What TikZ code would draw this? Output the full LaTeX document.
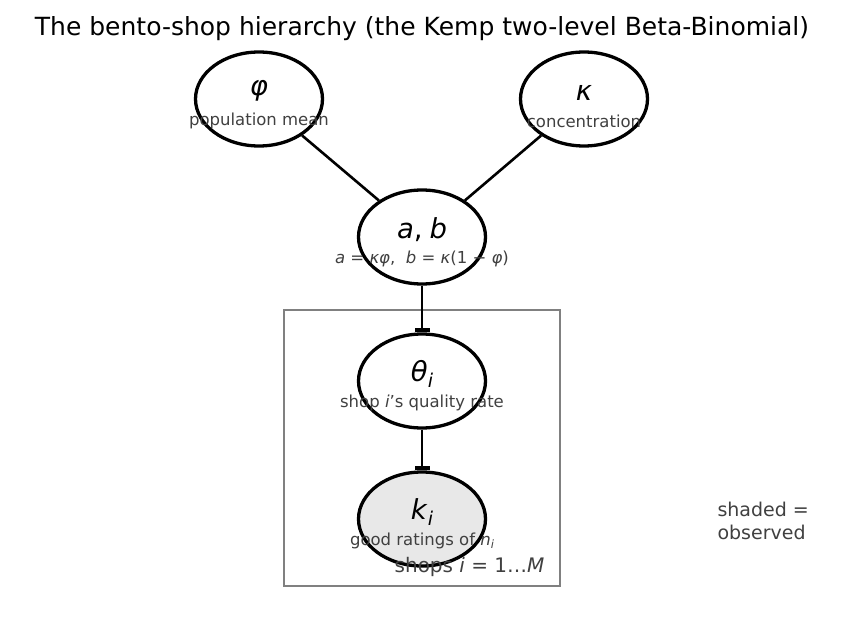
\documentclass[tikz,border=0pt]{standalone}
\usepackage{fontspec}
\setmainfont{DejaVu Sans}
\usetikzlibrary{shapes.geometric,arrows.meta}
\definecolor{subgray}{HTML}{404040}
\definecolor{plategray}{HTML}{808080}
\definecolor{obsfill}{HTML}{E8E8E8}
\begin{document}
\begin{tikzpicture}[x=1pt,y=-1pt,
  rv/.style={ellipse,draw=black,line width=3.3pt,minimum width=127pt,minimum height=94pt,inner sep=0pt},
  sym/.style={font=\fontsize{27.5}{30}\selectfont,text=black},
  sub/.style={font=\fontsize{16.5}{18}\selectfont,text=subgray},
  edge/.style={line width=2.6pt,draw=black},
  arr/.style={edge,-{Rectangle[length=4pt,width=15pt]}}
]
\useasboundingbox (0,0) rectangle (843,631);
\node[font=\fontsize{25}{28}\selectfont] (title) at (422,29) {The bento-shop hierarchy (the Kemp two-level Beta-Binomial)};
\node[draw=plategray,line width=2.7pt,minimum width=276pt,minimum height=276pt,inner sep=0pt] (plate) at (422,448) {};
\node[rv] (phi) at (259,99) {};
\node[rv] (kap) at (584,99) {};
\node[rv] (ab) at (422,237) {};
\node[rv] (th) at (422,381) {};
\node[rv,fill=obsfill] (k) at (422,519) {};
\draw[edge] (phi) -- (ab);
\draw[edge] (kap) -- (ab);
\draw[arr] (ab) -- (th);
\draw[arr] (th) -- (k);
\node[sym] (phis) at (259,91) {\textit{φ}};
\node[sub] (phit) at (259,121) {population mean};
\node[sym] (kaps) at (584,93) {\textit{κ}};
\node[sub] (kapt) at (584,121) {concentration};
\node[sym] (abs) at (422,230) {\textit{a},\kern0.25em\textit{b}};
\node[sub] (abt) at (422,259) {\textit{a} = \textit{κφ},\ \ \textit{b} = \textit{κ}(1 − \textit{φ})};
\node[sym] (ths) at (422,374) {\textit{θ}\raisebox{-0.22em}{\fontsize{19}{20}\selectfont\textit{i}}};
\node[sub] (tht) at (422,403) {shop \textit{i}'s quality rate};
\node[sym] (ks) at (422,512) {\textit{k}\raisebox{-0.22em}{\fontsize{19}{20}\selectfont\textit{i}}};
\node[sub] (kt) at (422,541) {good ratings of \textit{n}\raisebox{-0.2em}{\fontsize{11.5}{12}\selectfont\textit{i}}};
\node[font=\fontsize{20}{22}\selectfont,text=subgray,anchor=east] (pl) at (548,567) {shops \textit{i} = 1…\textit{M}};
\node[font=\fontsize{19}{23}\selectfont,text=subgray,anchor=west,align=left] (leg) at (714,521) {shaded =\\observed};
\end{tikzpicture}
\end{document}
